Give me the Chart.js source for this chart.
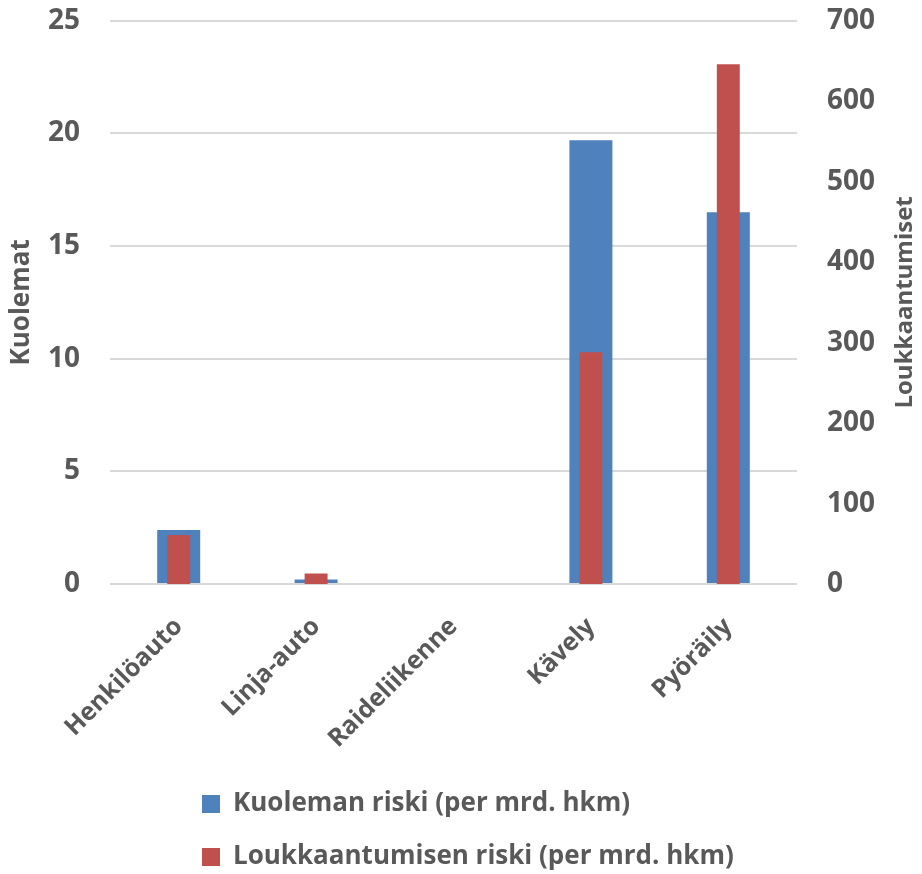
<!DOCTYPE html>
<html lang="fi">
<head>
<meta charset="utf-8">
<title>Kuoleman ja loukkaantumisen riski liikennemuodoittain</title>
<script src="https://cdn.jsdelivr.net/npm/chart.js@4"></script>
<style>
  html, body { margin: 0; padding: 0; background: #ffffff; }
  #wrap { position: relative; width: 922px; height: 874px; }
</style>
</head>
<body>
<div id="wrap"><canvas id="chart" width="922" height="874"></canvas></div>
<script>
// Liikennemuodot
const categories = ['Henkilöauto', 'Linja-auto', 'Raideliikenne', 'Kävely', 'Pyöräily'];
// Kuolemat per miljardi henkilökilometriä (vasen akseli)
const deathRisk = [2.4, 0.2, 0, 19.7, 16.5];
// Loukkaantumiset per miljardi henkilökilometriä (oikea akseli)
const injuryRisk = [61, 13, 0, 288, 646];

const seriesLabels = ['Kuoleman riski (per mrd. hkm)', 'Loukkaantumisen riski (per mrd. hkm)'];
const leftTitle = 'Kuolemat';
const rightTitle = 'Loukkaantumiset';
const leftMax = 25, leftStep = 5;
const rightMax = 700, rightStep = 100;

const FONT = '"Open Sans", Lato, sans-serif';
const TEXT = '#595959';
const BLUE = '#4F81BD';
const RED = '#C0504D';
const CLEAR = 'rgba(0,0,0,0)';

// Chart area edges in canvas pixels
const AREA = { left: 110, right: 797, bottom: 584 };
const LEGEND_X = 202, LEGEND_ROW1 = 804;

// Right axis title reads bottom-to-top like the left one
const rightTitlePlugin = {
  id: 'rightTitle',
  afterDraw(chart) {
    const s = chart.scales.y1;
    const ctx = chart.ctx;
    ctx.save();
    ctx.translate(s.right - 17, (chart.chartArea.top + chart.chartArea.bottom) / 2);
    ctx.rotate(-Math.PI / 2);
    ctx.font = 'bold 24px ' + FONT;
    ctx.fillStyle = TEXT;
    ctx.textAlign = 'center';
    ctx.textBaseline = 'middle';
    ctx.fillText(rightTitle, 0, 0);
    ctx.restore();
  }
};

// Legend block sits left-aligned under the plot
const legendPlacePlugin = {
  id: 'legendPlace',
  afterLayout(chart) {
    const lg = chart.legend;
    if (!lg) return;
    const pad = lg.options.labels.padding;
    lg.left = LEGEND_X - pad;
    lg.right = chart.width;
    const itemH = lg._itemHeight || 26;
    lg.top = LEGEND_ROW1 - pad - itemH / 2;
  }
};

new Chart(document.getElementById('chart'), {
  type: 'bar',
  data: {
    labels: categories,
    datasets: [
      {
        label: seriesLabels[0],
        data: deathRisk,
        backgroundColor: BLUE,
        yAxisID: 'y',
        grouped: false,
        order: 2,
        categoryPercentage: 1,
        barPercentage: 0.313
      },
      {
        label: seriesLabels[1],
        data: injuryRisk,
        backgroundColor: RED,
        yAxisID: 'y1',
        grouped: false,
        order: 1,
        categoryPercentage: 1,
        barPercentage: 0.167
      }
    ]
  },
  options: {
    responsive: false,
    animation: false,
    layout: { padding: 0 },
    plugins: {
      tooltip: { enabled: false },
      legend: {
        position: 'bottom',
        align: 'start',
        labels: {
          boxWidth: 18,
          boxHeight: 18,
          padding: 27,
          color: TEXT,
          font: { family: FONT, size: 26, weight: 'bold' },
          sort: (a, b) => a.datasetIndex - b.datasetIndex
        }
      }
    },
    scales: {
      x: {
        grid: { display: false, drawTicks: false },
        border: { display: false },
        ticks: {
          color: TEXT,
          font: { family: FONT, size: 25, weight: 'bold' },
          minRotation: 45,
          maxRotation: 45,
          autoSkip: false,
          padding: 28
        },
        afterFit(scale) {
          const lh = scale.chart.legend ? scale.chart.legend.height : 0;
          scale.height = 874 - AREA.bottom - lh;
        }
      },
      y: {
        position: 'left',
        min: 0,
        max: leftMax,
        grid: { color: '#D9D9D9', lineWidth: 2, drawTicks: true, tickLength: 26, tickColor: CLEAR },
        border: { display: false },
        ticks: {
          stepSize: leftStep,
          color: TEXT,
          padding: 4,
          font: { family: FONT, size: 28, weight: 'bold' }
        },
        title: {
          display: true,
          text: leftTitle,
          color: TEXT,
          padding: { top: 6, bottom: 0 },
          font: { family: FONT, size: 26, weight: 'bold' }
        },
        afterFit(scale) { scale.width = AREA.left; }
      },
      y1: {
        position: 'right',
        min: 0,
        max: rightMax,
        grid: { display: false, drawTicks: true, tickLength: 26, tickColor: CLEAR },
        border: { display: false },
        ticks: {
          stepSize: rightStep,
          color: TEXT,
          padding: 4,
          font: { family: FONT, size: 28, weight: 'bold' }
        },
        afterFit(scale) { scale.width = 922 - AREA.right; }
      }
    }
  },
  plugins: [rightTitlePlugin, legendPlacePlugin]
});
</script>
</body>
</html>
